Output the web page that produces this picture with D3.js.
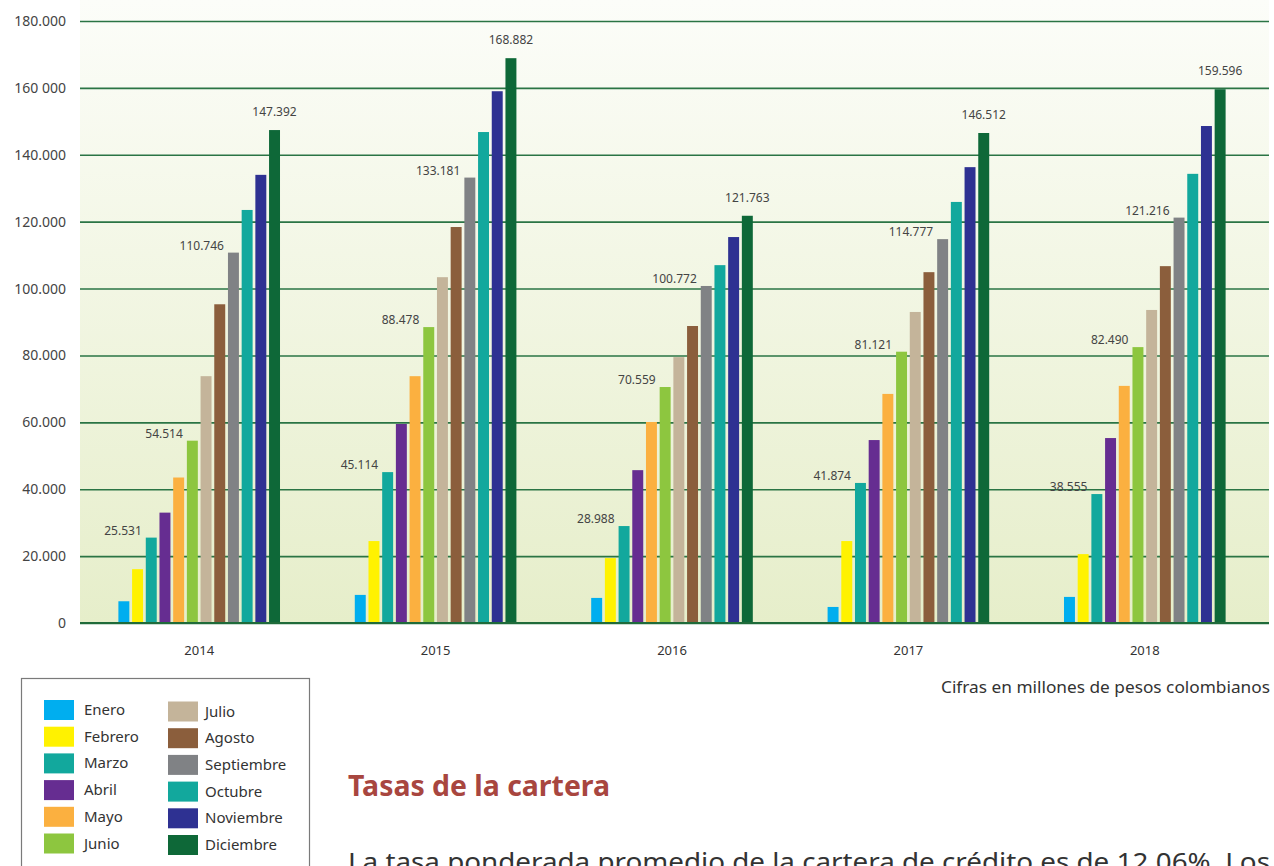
<!DOCTYPE html>
<html>
<head>
<meta charset="utf-8">
<script src="https://cdn.jsdelivr.net/npm/d3@7"></script>
<style>
  html, body { margin: 0; padding: 0; background: #ffffff; }
  svg { display: block; }
</style>
</head>
<body>
<svg id="chart" width="1274" height="866"></svg>
<script>
// ---------- data ----------
const years = ["2014", "2015", "2016", "2017", "2018"];
const months = ["Enero", "Febrero", "Marzo", "Abril", "Mayo", "Junio",
                "Julio", "Agosto", "Septiembre", "Octubre", "Noviembre", "Diciembre"];
const values2014 = [6500, 16100, 25531, 33000, 43500, 54514, 73800, 95300, 110746, 123500, 134000, 147392];
const values2015 = [8400, 24500, 45114, 59500, 73800, 88478, 103400, 118400, 133181, 146800, 159000, 168882];
const values2016 = [7500, 19400, 28988, 45700, 60100, 70559, 79500, 88800, 100772, 107000, 115400, 121763];
const values2017 = [4800, 24500, 41874, 54700, 68500, 81121, 93000, 104900, 114777, 125900, 136300, 146512];
const values2018 = [7800, 20600, 38555, 55300, 70900, 82490, 93600, 106700, 121216, 134300, 148600, 159596];
const labeledMonths = ["Marzo", "Junio", "Septiembre", "Diciembre"];
const yTickValues = [0, 20000, 40000, 60000, 80000, 100000, 120000, 140000, 160000, 180000];
const yTickLabels = ["0", "20.000", "40.000", "60.000", "80.000", "100.000", "120.000", "140.000", "160 000", "180.000"];
const legendNote = "Cifras en millones de pesos colombianos";
const headingText = "Tasas de la cartera";
const bodyText = "La tasa ponderada promedio de la cartera de crédito es de 12,06%. Los";

// ---------- palette ----------
const palette = ["#00AEEF", "#FFF200", "#12A89D", "#662D91", "#FBB040", "#8DC63F",
                 "#C4B49A", "#8B5E3C", "#808285", "#12A89D", "#2E3192", "#0E6838"];

const valuesByYear = [values2014, values2015, values2016, values2017, values2018];
const table = [];
years.forEach((y, i) => months.forEach((m, j) => table.push({year: y, month: m, value: valuesByYear[i][j]})));

const locale = d3.formatLocale({decimal: ",", thousands: ".", grouping: [3], currency: ["$", ""]});
const fmt = locale.format(",d");

// ---------- layout ----------
const svg = d3.select("#chart");
const plotLeft = 80, plotRight = 1269, plotTop = 21, plotBottom = 623;
const font = "'Noto Sans', 'Open Sans', sans-serif";

const y = d3.scaleLinear().domain([0, 180000]).range([plotBottom, plotTop]);
const x0 = d3.scaleBand().domain(years).range([81, 1263]).paddingInner(0).paddingOuter(0);
const x1 = d3.scaleBand().domain(months).range([0, x0.bandwidth()]).paddingInner(0.2).paddingOuter(2.73);
const color = d3.scaleOrdinal().domain(months).range(palette);

// background gradient
const defs = svg.append("defs");
const grad = defs.append("linearGradient").attr("id", "bg").attr("x1", 0).attr("y1", 0).attr("x2", 0).attr("y2", 1);
grad.append("stop").attr("offset", "0%").attr("stop-color", "#FCFDF9");
grad.append("stop").attr("offset", "100%").attr("stop-color", "#E6EECA");
svg.append("rect").attr("x", plotLeft).attr("y", 0).attr("width", plotRight - plotLeft)
   .attr("height", plotBottom).attr("fill", "url(#bg)");

// y axis (gridlines + labels)
const yAxis = d3.axisLeft(y).tickValues(yTickValues)
  .tickFormat((d, i) => yTickLabels[i]).tickSize(-(plotRight - plotLeft)).tickPadding(14);
const gy = svg.append("g").attr("transform", `translate(${plotLeft},0)`).call(yAxis);
gy.select(".domain").remove();
gy.selectAll(".tick line").attr("stroke", "#2A7444").attr("stroke-width", 1.6);
gy.selectAll(".tick text").attr("fill", "#444").attr("font-size", 14).attr("font-family", font);

// bars
const groups = svg.append("g").selectAll("g").data(years).join("g")
  .attr("transform", d => `translate(${x0(d)},0)`);
groups.selectAll("rect")
  .data(yr => table.filter(r => r.year === yr))
  .join("rect")
  .attr("x", d => x1(d.month))
  .attr("y", d => y(d.value))
  .attr("width", x1.bandwidth())
  .attr("height", d => y(0) - y(d.value))
  .attr("fill", d => color(d.month));

// value labels
groups.selectAll("text.val")
  .data(yr => table.filter(r => r.year === yr && labeledMonths.includes(r.month)))
  .join("text")
  .attr("class", "val")
  .attr("x", d => d.month === "Diciembre" ? x1(d.month) + x1.bandwidth() / 2 : x1(d.month) - 4)
  .attr("y", d => d.month === "Diciembre" ? y(d.value) - 14 : y(d.value) - 3)
  .attr("text-anchor", d => d.month === "Diciembre" ? "middle" : "end")
  .attr("font-size", 12).attr("font-family", font).attr("fill", "#444")
  .text(d => fmt(d.value));

// x axis
const xAxis = d3.axisBottom(x0).tickSize(0).tickPadding(23);
const gx = svg.append("g").attr("transform", `translate(0,${plotBottom})`).call(xAxis);
gx.select(".domain").remove();
gx.selectAll(".tick text").attr("fill", "#333").attr("font-size", 13).attr("font-family", font);
svg.append("line").attr("x1", plotLeft).attr("x2", plotRight).attr("y1", y(0)).attr("y2", y(0))
   .attr("stroke", "#1F6B3A").attr("stroke-width", 2);

// note
svg.append("text").attr("x", 1270).attr("y", 693).attr("text-anchor", "end")
   .attr("font-size", 16).attr("font-family", font).attr("fill", "#333")
   .attr("textLength", 329).attr("lengthAdjust", "spacingAndGlyphs").text(legendNote);

// legend
svg.append("rect").attr("x", 21.5).attr("y", 678.5).attr("width", 288).attr("height", 200)
   .attr("fill", "none").attr("stroke", "#7a7a7a").attr("stroke-width", 1.2);
const leg = svg.append("g").selectAll("g").data(months).join("g")
  .attr("transform", (d, i) => {
    const col = Math.floor(i / 6), row = i % 6;
    return `translate(${col ? 168 : 44},${700 + row * 26.7 + col * 1.5})`;
  });
leg.append("rect").attr("width", 30).attr("height", 20).attr("fill", d => color(d));
leg.append("text").attr("x", (d, i) => i < 6 ? 40 : 37).attr("y", 15)
   .attr("font-size", 15).attr("font-family", font).attr("fill", "#333").text(d => d);

// heading & body
svg.append("text").attr("x", 348).attr("y", 796).attr("font-size", 28).attr("font-weight", "bold")
   .attr("font-family", font).attr("fill", "#A8463F")
   .attr("textLength", 262).attr("lengthAdjust", "spacingAndGlyphs").text(headingText);
svg.append("text").attr("x", 348).attr("y", 871).attr("font-size", 26)
   .attr("font-family", font).attr("fill", "#333")
   .attr("textLength", 922).attr("lengthAdjust", "spacingAndGlyphs").text(bodyText);
</script>
</body>
</html>
